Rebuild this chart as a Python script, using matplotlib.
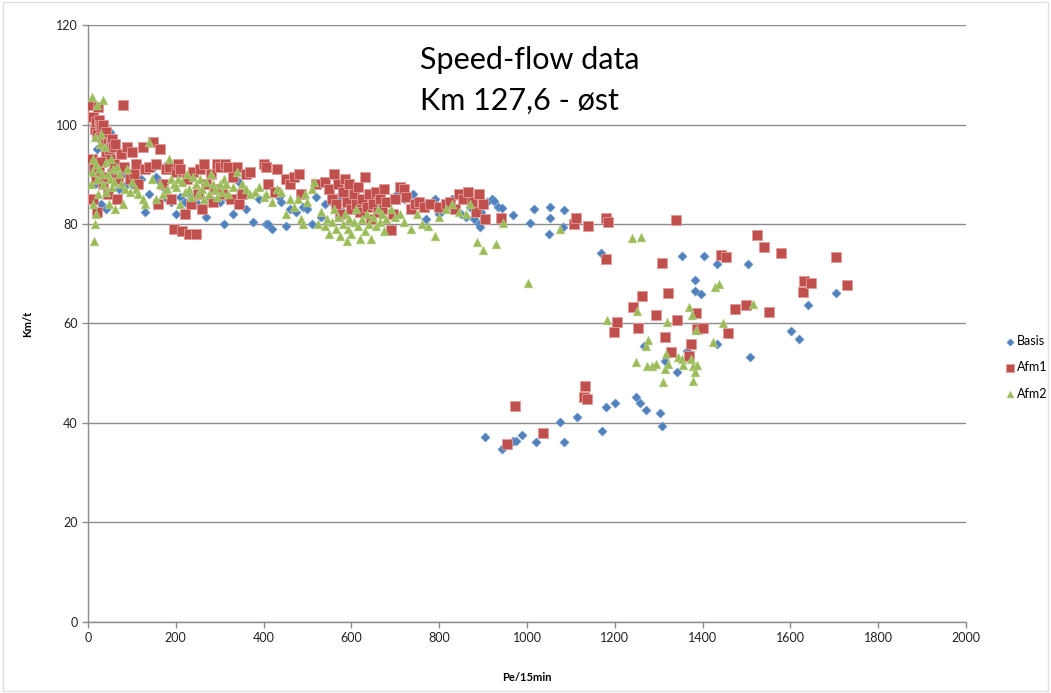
import matplotlib.pyplot as plt
from matplotlib.patches import Rectangle

# Basis (blue diamonds)
basis_x = [10, 15, 20, 25, 30, 35, 40, 45, 50, 55, 60, 30, 40, 70, 80, 90, 100, 110, 120, 130,
           140, 150, 155, 160, 165, 170, 175, 180, 190, 200, 210, 220, 230, 240, 250, 260, 270, 280,
           300, 310, 320, 330, 340, 345, 360, 375, 390, 405, 410, 420, 435, 440, 450, 460, 475, 490,
           500, 510, 520, 530, 540, 560, 570, 580, 590, 600, 610, 620, 640, 650, 660, 680, 700, 705,
           720, 740, 760, 770, 790, 800, 810, 830, 850, 860, 870, 880, 890, 900, 910, 920, 935,
           892, 896, 924, 942, 968, 1008, 1017, 1050, 1053, 1053, 1081, 1085, 1169,
           904, 942, 968, 974, 989, 1020, 1075, 1085, 1113, 1172, 1180, 1200, 1249, 1258, 1272,
           1304, 1307, 1267, 1315, 1342, 1365, 1432, 1382, 1382, 1397, 1354, 1403, 1432, 1504,
           1507, 1602, 1620, 1641, 1704]
basis_y = [92, 88, 95, 97, 100, 99, 96, 94, 98.5, 91, 89, 84, 83, 87, 90, 88, 88, 92, 89, 82.5,
           86, 91.5, 89.5, 92, 88.5, 88, 87, 85, 84.5, 82, 85.5, 84.5, 86, 84, 84, 83.5, 81.5, 85,
           84.5, 80, 85, 82, 85.5, 88.5, 83, 80.5, 85, 80, 80, 79, 85.5, 84.5, 79.5, 83, 82.5, 83.5,
           83, 80, 85.5, 81.5, 84, 84, 85.5, 82.5, 86, 83, 85, 84, 83.5, 84.5, 85, 84, 85.5, 86,
           85, 86, 84.5, 81, 85, 82, 83, 85, 82, 81.5, 83.5, 81, 80, 84.5, 84.5, 85, 83.5,
           79.4, 82.4, 84.7, 83.3, 81.9, 80.3, 83.1, 78.0, 83.5, 81.2, 79.4, 82.8, 74.1,
           37.2, 34.8, 36.4, 36.3, 37.5, 36.1, 40.1, 36.1, 41.2, 38.3, 43.3, 44.1, 45.2, 44.0, 42.7,
           42.0, 39.3, 55.4, 52.4, 50.2, 54.5, 55.9, 68.8, 66.6, 66.0, 73.5, 73.5, 71.9, 71.9,
           53.2, 58.4, 56.9, 63.7, 66.1]

# Afm1 (red squares)
afm1_x = [8, 12, 15, 18, 20, 22, 25, 28, 30, 33, 35, 38, 40, 42, 45, 48, 50, 52, 55, 58, 60, 62,
          10, 14, 18, 25, 30, 35, 40, 12, 20, 45, 55, 65, 68,
          80, 75, 82, 88, 95, 100, 105, 110, 115, 125, 130, 140, 148, 155, 160, 165, 170, 178, 185,
          190, 195, 200, 205, 210, 215, 220, 225, 230, 235, 240, 245, 250, 255, 260, 265, 270, 280,
          285, 290, 295, 300, 305, 312, 318, 325, 330, 340, 345, 350, 360, 370, 400, 405, 410, 425,
          430, 450, 460, 470, 480, 485,
          520, 540, 548, 555, 560, 565, 570, 575, 580, 585, 590, 595, 600, 605, 610, 615, 620, 625,
          630, 635, 640, 645, 650, 655, 660, 665, 670, 675, 680, 690, 695, 700, 710, 720, 725, 735,
          745, 755, 765, 780, 800, 815, 825, 835, 845, 855, 865, 875, 885, 890, 900, 905, 940,
          954, 972, 1037, 1133, 1130, 1136, 1180, 1180, 1185, 1139, 1107, 1111, 1339, 1198, 1205,
          1241, 1254, 1263, 1308, 1295, 1315, 1322, 1327, 1342, 1386, 1387, 1400, 1373, 1368,
          1441, 1454, 1473, 1458, 1499, 1525, 1539, 1551, 1579, 1628, 1632, 1646, 1704, 1730]
afm1_y = [104, 101.5, 99, 100.5, 98, 103.5, 101, 100, 99.5, 97.5, 100, 96, 98.5, 94, 97, 95, 93,
          96.5, 97, 95.5, 92, 96, 93, 91, 89, 90.5, 92.5, 88, 89.5, 85, 82.5, 86, 90, 85, 89,
          104, 94, 91.5, 95.5, 89, 94.5, 90, 92, 88, 95.5, 91, 91.5, 96.5, 92, 84, 95, 88, 91,
          91.5, 85, 79, 90.5, 92, 91, 78.5, 82, 89, 78, 84, 90.5, 78, 86, 91, 83, 92, 88, 90,
          84.5, 87, 92, 91.5, 86, 92, 91.5, 85, 89.5, 91.5, 84, 86, 90, 90.5, 92, 91.5, 88, 86.5,
          91, 89, 88, 89.5, 90, 86,
          88, 88.5, 87, 85, 90, 84, 88, 82, 86.5, 89, 84.5, 88, 83, 86, 84, 87.5, 82.5, 85,
          89.5, 83.5, 86, 81, 84, 86.5, 82.5, 85, 83, 87, 84.5, 78.8, 82, 85, 87.5, 87, 85.5, 83,
          84, 84.5, 83.5, 84, 83.5, 84, 84.5, 83, 86, 85, 86.5, 84.5, 82.5, 86, 84, 81, 81.3,
          35.8, 43.4, 38.0, 47.4, 45.2, 44.9, 72.9, 81.2, 80.5, 79.6, 80.0, 81.2, 80.9, 58.2, 60.4,
          63.4, 59.0, 65.5, 72.2, 61.7, 57.2, 66.1, 54.2, 60.7, 62.1, 58.8, 59.1, 55.9, 53.4,
          73.7, 73.3, 63.0, 58.0, 63.7, 77.7, 75.3, 62.3, 74.2, 66.3, 68.6, 68.1, 73.3, 67.8]

# Afm2 (green triangles)
afm2_x = [10, 20, 35, 12, 15, 14, 18, 8, 10, 12, 15, 18, 20, 22, 25, 28, 30, 32, 35, 38, 40, 42,
          45, 48, 50, 52, 55, 58, 60, 62, 65, 70, 75, 80, 85, 90, 95, 100, 110, 115, 125, 130, 140,
          145, 155, 165, 170, 180, 185, 190, 195, 200, 205, 210, 215, 220, 225, 230, 235, 240, 245,
          250, 255, 260, 265, 270, 275, 280, 285, 290, 295, 300, 305, 310, 315, 320, 330, 340, 350,
          360, 370, 380, 390, 400, 405, 420, 430, 440, 450, 460, 470, 478, 485, 490, 495, 500, 510,
          515, 525, 530, 540, 545, 550, 555, 560, 565, 570, 575, 580, 585, 590, 592, 595, 600, 605,
          610, 615, 620, 625, 630, 635, 640, 645, 650, 655, 660, 665, 670, 675, 680, 690, 700, 710,
          720, 735, 750, 760, 775, 790, 800, 815, 830, 845, 860, 870,
          887, 899, 930, 945, 1002, 1075, 1240, 1260, 1183, 1250, 1249, 1270, 1275, 1273, 1284,
          1293, 1310, 1315, 1316, 1319, 1322, 1345, 1353, 1356, 1370, 1377, 1374, 1379, 1379, 1382,
          1388, 1386, 1423, 1428, 1438, 1446, 1514]
afm2_y = [105.5, 104, 105, 84, 80, 76.5, 82, 88, 90.5, 93, 97.5, 92, 89, 86, 91, 96, 98, 90, 88,
          95.5, 92.5, 86.5, 90, 84, 89, 93, 87.5, 91, 88.5, 83, 91.5, 90, 88, 84, 87, 91, 86.5,
          88.5, 87, 86, 85, 84, 96.5, 89, 85, 88, 86, 87, 93, 89, 88, 87.5, 89, 84, 88.5, 86.5,
          90, 87, 85.5, 89.5, 88, 86, 89, 87, 85, 88.5, 86, 90, 88, 87, 85.5, 88, 86.5, 89, 88, 86,
          87.5, 90.5, 88, 87, 86, 86.5, 87.5, 85.5, 86, 84.5, 87, 86.5, 82, 85, 83.5, 85, 81, 80,
          86, 84.5, 87, 88.5, 80, 82.5, 79.5, 81, 78, 80.5, 83, 79, 81.5, 77.5, 80, 82, 76.5, 79,
          81, 78, 80.5, 83, 79.5, 77, 81, 78.5, 82, 80, 77, 81.5, 79.5, 83, 80.5, 82, 78.5, 81,
          83, 81.5, 82, 80.5, 79, 82, 80, 79.5, 77.5, 81.5, 83, 84, 82.5, 82, 84,
          76.4, 74.8, 75.9, 80.2, 68.2, 79.0, 77.2, 77.4, 60.7, 62.6, 52.2, 55.5, 56.6, 51.4, 51.4,
          51.9, 48.2, 50.8, 53.8, 60.4, 51.8, 53.2, 52.9, 51.6, 63.3, 61.8, 52.9, 51.5, 48.4, 50.2,
          51.6, 58.7, 56.2, 67.3, 68.0, 60.1, 64.0]

series_names = ['Basis', 'Afm1', 'Afm2']
series_colors = ['#4F81BD', '#C0504D', '#9BBB59']

plt.rcParams['font.family'] = ['Lato', 'DejaVu Sans']

fig = plt.figure(figsize=(10.51, 6.93), dpi=100)
ax = fig.add_axes([0.0837, 0.1025, 0.8354, 0.8614])

ax.scatter(basis_x, basis_y, marker='D', s=22, color=series_colors[0],
           edgecolors='#7FA3D0', linewidths=0.4, label=series_names[0], zorder=3)
ax.scatter(afm1_x, afm1_y, marker='s', s=42, color=series_colors[1],
           edgecolors='#E39A98', linewidths=0.6, label=series_names[1], zorder=3)
ax.scatter(afm2_x, afm2_y, marker='^', s=40, color=series_colors[2],
           edgecolors='#B9D28C', linewidths=0.4, label=series_names[2], zorder=3)

ax.set_xlim(0, 2000)
ax.set_ylim(0, 120)
ax.set_xticks(range(0, 2001, 200))
ax.set_yticks(range(0, 121, 20))
ax.yaxis.grid(True, color='#8C8C8C', linewidth=1.0)
ax.set_axisbelow(True)
for side in ['top', 'right']:
    ax.spines[side].set_visible(False)
for side in ['left', 'bottom']:
    ax.spines[side].set_color('#8C8C8C')
    ax.spines[side].set_linewidth(1.0)
ax.tick_params(axis='both', colors='#8C8C8C', labelcolor='#222222', labelsize=9, length=4, width=1)

ax.set_xlabel('Pe/15min', fontsize=8, fontweight='bold', labelpad=20)
ax.set_ylabel('Km/t', fontsize=8, fontweight='bold', labelpad=16)

fig.text(0.40, 0.913, 'Speed-flow data', fontsize=22, va='center', ha='left')
fig.text(0.40, 0.855, 'Km 127,6 - øst', fontsize=22, va='center', ha='left')

ax.legend(loc='center left', bbox_to_anchor=(0.950, 0.47), bbox_transform=fig.transFigure,
          frameon=False, fontsize=9, handletextpad=0.05, labelspacing=1.15,
          handlelength=1.0, borderaxespad=0, markerscale=0.8)

fig.patches.append(Rectangle((0.003, 0.003), 0.994, 0.994, transform=fig.transFigure,
                             fill=False, edgecolor='#E0E0E0', linewidth=1))

fig.savefig('out.png', dpi=100)
